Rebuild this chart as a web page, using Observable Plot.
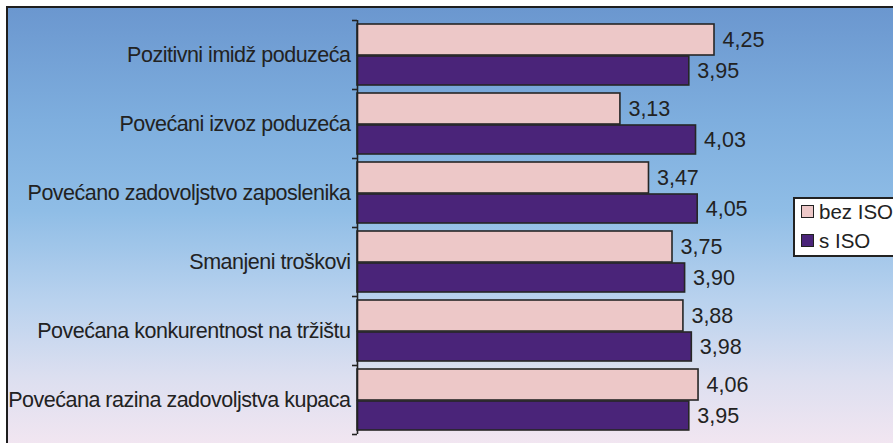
<!DOCTYPE html>
<html>
<head>
<meta charset="utf-8">
<script src="https://cdn.jsdelivr.net/npm/d3@7"></script>
<script src="https://cdn.jsdelivr.net/npm/@observablehq/plot@0.6"></script>
<style>
  html, body { margin: 0; padding: 0; width: 893px; height: 443px; overflow: hidden; background: #fff; font-family: "Liberation Sans", Arial, sans-serif; }
  #bg { position: absolute; left: 6px; top: 6px; width: 900px; height: 450px; border-left: 2px solid #1e1e1e; border-top: 2px solid #1e1e1e;
        background: linear-gradient(to bottom, #6b97cf 0%, #7eaede 25%, #8fbde6 45%, #b9d2ee 65%, #dcdff0 82%, #f6e7f1 100%); }
  #chart { position: absolute; left: 0; top: 0; }
  #legend { position: absolute; left: 793px; top: 197px; width: 120px; height: 56px; background: #fff; border: 2px solid #222; color: #222; font-size: 20.5px; }
  .item { position: absolute; left: 6px; height: 22px; line-height: 22px; white-space: nowrap; }
  .sw { display: inline-block; width: 11px; height: 11px; border: 1.5px solid #222; vertical-align: middle; margin-right: 5px; position: relative; top: -2px; }
</style>
</head>
<body>
<div id="bg"></div>
<div id="chart"></div>
<div id="legend"></div>
<script>
const categories = [
  "Pozitivni imidž poduzeća",
  "Povećani izvoz poduzeća",
  "Povećano zadovoljstvo zaposlenika",
  "Smanjeni troškovi",
  "Povećana konkurentnost na tržištu",
  "Povećana razina zadovoljstva kupaca"
];
const seriesNames = ["bez ISO", "s ISO"];
const bezISO = [4.25, 3.13, 3.47, 3.75, 3.88, 4.06];
const sISO   = [3.95, 4.03, 4.05, 3.90, 3.98, 3.95];
const colors = ["#edc8c8", "#4a2479"];

const rowsA = categories.map((c, i) => ({cat: c, v: bezISO[i]}));
const rowsB = categories.map((c, i) => ({cat: c, v: sISO[i]}));
const fmt = v => d3.format(".2f")(v).replace(".", ",");

const W = 893, H = 443;
const step = (H - 20 - 9) / categories.length;

const chart = Plot.plot({
  width: W,
  height: H,
  marginLeft: 357,
  marginRight: W - 357 - 5 * 84,
  marginTop: 20,
  marginBottom: 9,
  style: {background: "transparent", fontFamily: "'Liberation Sans', Arial, sans-serif", fontSize: "21.5px", color: "#222"},
  x: {domain: [0, 5], axis: null},
  y: {domain: categories, padding: 0, label: null},
  marks: [
    Plot.axisY({tickSize: 0, tickPadding: 7, fontSize: 21.5, fill: "#222", label: null}),
    Plot.barX(rowsA, {x: "v", y: "cat", fill: colors[0], stroke: "#262626", strokeWidth: 1.6, insetTop: 4, insetBottom: 34}),
    Plot.barX(rowsB, {x: "v", y: "cat", fill: colors[1], stroke: "#262626", strokeWidth: 1.6, insetTop: 36, insetBottom: 4}),
    Plot.text(rowsA, {x: "v", y: "cat", text: d => fmt(d.v), textAnchor: "start", dx: 8, dy: -15, fontSize: 21.5, fill: "#222"}),
    Plot.text(rowsB, {x: "v", y: "cat", text: d => fmt(d.v), textAnchor: "start", dx: 8, dy: 16, fontSize: 21.5, fill: "#222"}),
    Plot.ruleX([0], {stroke: "#222", strokeWidth: 1.6}),
    Plot.ruleY(categories, {y: d => d, x1: 0, x2: 0, insetLeft: -5, dy: -step / 2, stroke: "#222", strokeWidth: 1.6}),
    Plot.ruleY(categories.slice(-1), {y: d => d, x1: 0, x2: 0, insetLeft: -5, dy: step / 2, stroke: "#222", strokeWidth: 1.6})
  ]
});
d3.select(chart).selectAll("text")
  .filter(function() { return categories.includes(this.textContent); })
  .style("letter-spacing", "-0.5px");
document.getElementById("chart").appendChild(chart);

const legend = document.getElementById("legend");
seriesNames.forEach((name, i) => {
  const it = document.createElement("div");
  it.className = "item";
  it.style.top = (i === 0 ? 2 : 31) + "px";
  const sw = document.createElement("span");
  sw.className = "sw";
  sw.style.background = colors[i];
  it.appendChild(sw);
  it.appendChild(document.createTextNode(name));
  legend.appendChild(it);
});
</script>
</body>
</html>
